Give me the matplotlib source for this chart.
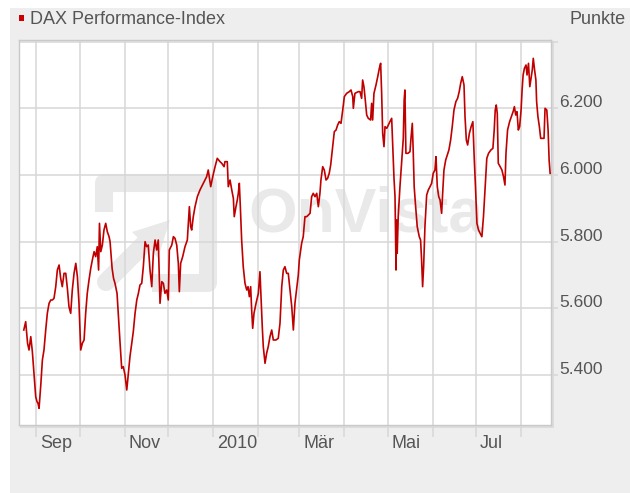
import matplotlib
matplotlib.use("Agg")
import matplotlib.pyplot as plt
import matplotlib.transforms as mtransforms
import matplotlib.dates as mdates
from matplotlib.patches import Rectangle, Polygon
from matplotlib.lines import Line2D
import numpy as np
import pandas as pd

plt.rcParams['font.family'] = ['Liberation Sans', 'DejaVu Sans']

# ---------------- data ----------------
base_date = pd.Timestamp('2009-09-01')
# days since 2009-09-01
day_offset = [
    -8.5, -7.2, -5.9, -4.9, -3.7, -2.6, -1.4, -0.3, 0.6, 1.3,
    2.0, 3.2, 4.3, 5.4, 6.6, 7.7, 8.9, 10.1, 11.2, 12.3,
    13.5, 14.6, 15.8, 16.9, 18.0, 19.2, 20.4, 21.5, 22.6, 23.8,
    24.9, 26.1, 27.3, 28.4, 29.5, 30.7, 31.8, 33.0, 34.1, 35.2,
    36.4, 37.6, 38.7, 39.9, 41.0, 42.1, 43.0, 43.6, 44.5, 45.6,
    46.7, 47.9, 49.0, 50.2,
    50.9, 52.3, 53.3, 54.3, 55.7, 56.6, 57.8, 58.9, 60.0, 61.2,
    62.4, 63.5, 64.6, 65.8, 66.9, 68.1, 69.3, 70.4, 71.5, 72.7,
    73.8, 75.0, 76.1, 77.2, 78.4, 79.6, 80.7, 81.9, 83.0, 84.1,
    85.3, 86.5, 87.6, 88.7, 89.9, 91.0, 91.7, 93.4, 94.5, 95.6,
    96.8, 97.9, 98.6, 99.5, 100.9, 102.5, 104.1, 105.5, 106.4, 107.1,
    108.2, 109.4, 111.0, 112.8,
    115.1, 117.4, 118.5, 120.2, 121.6, 123.2, 124.7, 126.6, 127.8, 129.4,
    130.0, 131.6, 132.3, 133.5, 134.7, 135.8, 136.4, 137.6, 138.5, 139.2,
    139.9, 140.6, 141.5, 142.6, 143.8, 145.0, 145.9, 146.8, 147.7, 148.4,
    149.1, 150.0, 151.4, 153.0, 154.1, 154.8, 155.7, 156.4, 157.6, 158.7,
    159.8, 161.0, 162.2, 163.3, 165.1, 166.7, 167.9, 169.1, 170.2, 171.3,
    172.5, 173.6, 174.8, 176.0, 177.1, 178.2, 179.4, 180.5,
    181.2, 182.8, 183.9, 185.1, 186.3, 187.4, 188.6, 189.7, 190.8, 192.0,
    193.2, 194.3, 195.4, 196.1, 197.3, 198.4, 199.6, 200.7, 201.8, 202.8,
    204.2, 205.3, 206.5, 207.6, 208.7, 209.9, 211.1, 212.2, 213.8, 215.6,
    216.8, 218.0, 218.4, 219.5, 221.8, 223.0, 224.1, 224.8, 225.7, 226.4,
    227.6, 228.7, 230.3, 231.0, 231.7, 232.6, 234.0, 235.2, 236.3, 237.2,
    237.9, 238.6, 239.5, 240.2, 241.4, 242.5, 243.6, 244.8, 245.5, 246.4,
    247.1, 247.8, 248.2, 248.6, 249.3, 250.5, 251.6, 252.8, 253.4, 253.9,
    254.6, 256.0, 257.4, 258.1, 259.0, 259.6, 260.3, 261.3, 262.4, 263.8,
    264.7, 265.4, 266.1, 266.8, 267.7, 268.9, 270.0, 271.2, 272.3, 273.4,
    274.6, 275.3, 276.2, 277.2, 278.1, 279.2, 279.9, 280.8, 282.0, 283.1,
    284.2, 285.4, 286.5, 287.7, 289.0, 290.2, 291.3, 292.3, 293.4, 294.6,
    295.3,
    296.2, 297.1, 298.3, 299.5, 300.7, 301.6, 302.5, 303.5, 304.6, 305.7,
    306.9, 308.0, 309.2, 310.3, 311.5, 313.1, 314.5, 315.4, 316.1, 316.8,
    317.5, 318.2, 319.5, 320.7, 321.8, 322.8, 323.5, 324.6, 326.0, 327.2,
    328.4, 329.3, 330.2, 331.1, 332.0, 332.9, 333.9, 334.6, 335.3, 336.2,
    337.3, 338.0, 339.0, 339.9, 340.9, 341.6, 342.3, 343.2, 344.1, 344.6,
    345.5, 346.5, 347.4, 348.6, 349.7, 350.4, 351.6, 352.5, 353.2, 353.9,
]
dax_points = [
    5535, 5560, 5495, 5475, 5515, 5470, 5400, 5335, 5320, 5315,
    5300, 5370, 5445, 5475, 5535, 5585, 5615, 5625, 5625, 5630,
    5665, 5715, 5730, 5690, 5665, 5705, 5705, 5660, 5605, 5585,
    5655, 5705, 5735, 5695, 5615, 5475, 5495, 5505, 5585, 5645,
    5685, 5720, 5745, 5770, 5755, 5785, 5715, 5855, 5770, 5790,
    5835, 5855, 5830, 5815,
    5800, 5720, 5690, 5675, 5645, 5580, 5495, 5420, 5425, 5400,
    5355, 5405, 5455, 5495, 5530, 5585, 5625, 5645, 5670, 5675,
    5725, 5800, 5785, 5790, 5715, 5665, 5765, 5805, 5775, 5805,
    5615, 5680, 5675, 5645, 5655, 5625, 5775, 5790, 5815, 5810,
    5790, 5735, 5650, 5735, 5755, 5785, 5805, 5905, 5845, 5835,
    5875, 5905, 5935, 5955,
    5975, 5995, 6015, 5965, 5995, 6025, 6050, 6040, 6035, 6025,
    6040, 6040, 5965, 5985, 5955, 5930, 5875, 5905, 5925, 5945,
    5975, 5905, 5805, 5725, 5675, 5655, 5665, 5635, 5665, 5595,
    5540, 5585, 5615, 5645, 5710, 5635, 5545, 5485, 5435, 5465,
    5485, 5515, 5535, 5505, 5505, 5510, 5555, 5665, 5715, 5725,
    5705, 5705, 5655, 5605, 5535, 5615, 5660, 5700,
    5745, 5795, 5815, 5875, 5875, 5880, 5885, 5935, 5945, 5935,
    5945, 5905, 5945, 5985, 6025, 6015, 5985, 5990, 6005, 6030,
    6085, 6130, 6135, 6150, 6160, 6155, 6195, 6235, 6245, 6250,
    6255, 6235, 6200, 6245, 6250, 6250, 6230, 6285, 6265, 6235,
    6180, 6170, 6165, 6215, 6165, 6245, 6270, 6295, 6320, 6335,
    6245, 6125, 6085, 6145, 6140, 6150, 6160, 6170, 6090, 5990,
    5935, 5715, 5865, 5765, 5875, 5965, 6035, 6110, 6225, 6255,
    6065, 6065, 6070, 6110, 6155, 6075, 5965, 5905, 5845, 5815,
    5805, 5745, 5665, 5725, 5845, 5940, 5955, 5965, 5975, 6005,
    6015, 6055, 5965, 5935, 5925, 5885, 5945, 6015, 6045, 6060,
    6075, 6105, 6145, 6195, 6220, 6230, 6250, 6275, 6295, 6270,
    6175,
    6105, 6090, 6125, 6145, 6160, 6055, 5965, 5855, 5835, 5825,
    5815, 5875, 5965, 6050, 6065, 6075, 6080, 6135, 6195, 6210,
    6185, 6035, 6025, 6015, 5995, 5970, 6065, 6135, 6160, 6175,
    6190, 6205, 6180, 6190, 6135, 6145, 6195, 6255, 6300, 6320,
    6330, 6300, 6335, 6265, 6295, 6315, 6350, 6315, 6285, 6220,
    6175, 6145, 6110, 6110, 6110, 6200, 6195, 6135, 6045, 6005,
]
assert len(day_offset) == len(dax_points)

month_starts = pd.date_range('2009-09-01', '2010-08-01', freq='MS')
month_labels = ['Sep', '', 'Nov', '', '2010', '', 'Mär', '', 'Mai', '', 'Jul', '']
y_grid = [5400, 5600, 5800, 6000, 6200, 6400]
y_labels = ['5.400', '5.600', '5.800', '6.000', '6.200', '']
x_range_days = [-11.8, 354.5]
y_range = [5250, 6405]

series_name = 'DAX Performance-Index'
unit_label = 'Punkte'

# ---------------- styling ----------------
W, H = 630, 493
text_c = '#555555'
grid_c = '#d7d7d7'
line_c = '#c00000'
wm_c = '#e9e9e9'

fig = plt.figure(figsize=(W / 100, H / 100), dpi=100)
fig.patch.set_facecolor('white')


def fx(px):
    return px / W


def fy(py):
    return 1 - py / H


# grey panel and plot shadow
fig.patches.append(Rectangle((fx(10), 0), fx(620), (H - 8) / H, transform=fig.transFigure,
                             facecolor='#eeeeee', edgecolor='none', zorder=-10))
fig.patches.append(Rectangle((fx(20), fy(428)), fx(534), 387 / H, transform=fig.transFigure,
                             facecolor='#dcdcdc', edgecolor='none', zorder=-5))

ax = fig.add_axes([fx(19), fy(425), fx(532), 385 / H])
ax.set_facecolor('white')

dates = base_date + pd.to_timedelta(np.array(day_offset), unit='D')
ax.plot(dates, dax_points, color=line_c, lw=1.2, zorder=3)

ax.set_xlim(base_date + pd.Timedelta(days=x_range_days[0]),
            base_date + pd.Timedelta(days=x_range_days[1]))
ax.set_ylim(y_range)

ax.set_xticks(month_starts)
ax.set_xticklabels([])
ax.set_yticks(y_grid)
ax.set_yticklabels([])
ax.yaxis.tick_right()
ax.tick_params(axis='x', direction='out', length=8.6, width=1.1, color=grid_c,
               bottom=True, top=False)
ax.tick_params(axis='y', direction='out', length=5, width=1.1, color=grid_c,
               right=True, left=False)
ax.grid(True, color=grid_c, lw=1.1)
ax.set_axisbelow(True)
for s in ax.spines.values():
    s.set_color('#c9c9c9')
    s.set_linewidth(1.0)


# watermark (OnVista logo) in axes fraction
def axx(px):
    return (px - 19) / 532


def axy(py):
    return (425 - py) / 385


logo = Line2D([axx(104), axx(104), axx(208), axx(208), axx(152)],
              [axy(212), axy(183), axy(183), axy(283), axy(283)],
              transform=ax.transAxes, color=wm_c, lw=13, solid_joinstyle='round',
              solid_capstyle='butt', zorder=0.3)
ax.add_line(logo)
arrow = Line2D([axx(106), axx(146)], [axy(282), axy(242)], transform=ax.transAxes,
               color=wm_c, lw=13, solid_capstyle='round', zorder=0.3)
ax.add_line(arrow)
ax.add_patch(Polygon([(axx(170), axy(220)), (axx(132), axy(232)), (axx(158), axy(258))],
                     closed=True, transform=ax.transAxes, facecolor=wm_c,
                     edgecolor='none', zorder=0.3))
ax.text(axx(248), axy(232), 'OnVista', transform=ax.transAxes, fontsize=45,
        fontweight='bold', color=wm_c, ha='left', va='baseline', zorder=0.3)

# y labels (right side, sitting on the grid lines)
ytrans = mtransforms.blended_transform_factory(ax.transAxes, ax.transData) + \
    mtransforms.ScaledTranslation(8 / 100, 1 / 100, fig.dpi_scale_trans)
for v, lab in zip(y_grid, y_labels):
    if lab:
        ax.text(1.0, v, lab, transform=ytrans, ha='left', va='baseline',
                fontsize=12.5, color=text_c, clip_on=False)

# x labels (left aligned after the month line)
xtrans = mtransforms.blended_transform_factory(ax.transData, ax.transAxes) + \
    mtransforms.ScaledTranslation(4 / 100, -23 / 100, fig.dpi_scale_trans)
for d, lab in zip(month_starts, month_labels):
    if lab:
        ax.text(mdates.date2num(d), 0, lab, transform=xtrans, ha='left', va='baseline',
                fontsize=13, color=text_c, clip_on=False)

# header
fig.patches.append(Rectangle((fx(19), fy(21)), fx(5), 6 / H, transform=fig.transFigure,
                             facecolor='#cc0000', edgecolor='none', zorder=5))
fig.text(fx(30), fy(24), series_name, fontsize=13, color=text_c, ha='left', va='baseline')
fig.text(fx(626), fy(24), unit_label, fontsize=13, color=text_c, ha='right', va='baseline')

fig.savefig('out.png', dpi=100)
